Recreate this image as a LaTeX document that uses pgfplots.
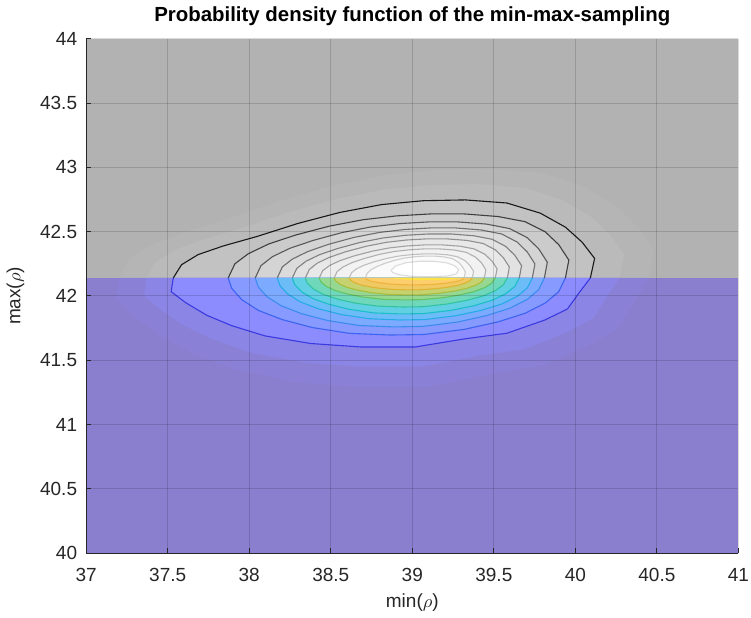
\documentclass[border=0pt]{standalone}
\usepackage{fontspec}
\setmainfont{Liberation Sans}
\usepackage{pgfplots}
\usepackage{pgfplotstable}
\pgfplotsset{compat=1.18}

% backgrounds
\definecolor{bgU}{gray}{0.70}
\definecolor{bgL}{RGB}{138,127,207}
\definecolor{axgray}{RGB}{38,38,38}
% upper (gray) fills
\definecolor{uA}{gray}{0.71}
\definecolor{uB}{gray}{0.73}
\definecolor{u1}{gray}{0.76}
\definecolor{u2}{gray}{0.795}
\definecolor{u3}{gray}{0.83}
\definecolor{u4}{gray}{0.86}
\definecolor{u5}{gray}{0.885}
\definecolor{u6}{gray}{0.91}
\definecolor{u7}{gray}{0.93}
\definecolor{u8}{gray}{0.95}
\definecolor{u9}{gray}{0.965}
\definecolor{u10}{gray}{0.98}
\definecolor{u11}{gray}{1.0}
% lower (coloured) fills
\definecolor{lA}{RGB}{138,129,214}
\definecolor{lB}{RGB}{139,133,230}
\definecolor{l1}{RGB}{140,140,255}
\definecolor{l2}{RGB}{134,154,255}
\definecolor{l3}{RGB}{124,170,255}
\definecolor{l4}{RGB}{108,188,248}
\definecolor{l5}{RGB}{96,208,226}
\definecolor{l6}{RGB}{112,216,186}
\definecolor{l7}{RGB}{150,216,146}
\definecolor{l8}{RGB}{198,210,112}
\definecolor{l9}{RGB}{240,200,100}
\definecolor{l10}{RGB}{252,206,110}
\definecolor{l11}{RGB}{255,226,70}
% contour line colours
\definecolor{ku1}{gray}{0.10}
\definecolor{ku2}{gray}{0.25}
\definecolor{ku3}{gray}{0.35}
\definecolor{ku4}{gray}{0.43}
\definecolor{ku5}{gray}{0.50}
\definecolor{ku6}{gray}{0.57}
\definecolor{ku7}{gray}{0.63}
\definecolor{ku8}{gray}{0.69}
\definecolor{ku9}{gray}{0.75}
\definecolor{ku10}{gray}{0.80}
\definecolor{ku11}{gray}{0.86}
\definecolor{kl1}{RGB}{58,58,224}
\definecolor{kl2}{RGB}{60,100,240}
\definecolor{kl3}{RGB}{60,140,240}
\definecolor{kl4}{RGB}{40,170,230}
\definecolor{kl5}{RGB}{30,190,200}
\definecolor{kl6}{RGB}{50,196,160}
\definecolor{kl7}{RGB}{100,196,100}
\definecolor{kl8}{RGB}{170,190,60}
\definecolor{kl9}{RGB}{220,180,50}
\definecolor{kl10}{RGB}{240,180,60}

% contour tables: upper arc (xu,yu) and lower arc (xl,yl), both from left to right
\pgfplotstableread{
xu yu xl yl
37.200 42.140 37.200 42.140
37.265 42.285 37.184 41.970
37.395 42.395 37.298 41.834
37.590 42.489 37.460 41.681
37.850 42.591 37.655 41.553
38.175 42.735 37.915 41.426
38.500 42.854 38.273 41.332
38.825 42.939 38.663 41.290
39.150 42.982 39.085 41.290
39.475 42.990 39.475 41.392
39.800 42.956 39.800 41.460
40.060 42.846 40.093 41.621
40.255 42.693 40.271 41.757
40.385 42.531 40.369 41.970
40.483 42.353 40.450 42.140
40.450 42.140 40.450 42.140
}\cA
\pgfplotstableread{
xu yu xl yl
37.370 42.140 37.370 42.140
37.428 42.264 37.355 42.002
37.544 42.359 37.457 41.892
37.718 42.439 37.602 41.767
37.950 42.527 37.776 41.664
38.240 42.651 38.008 41.560
38.530 42.753 38.327 41.484
38.820 42.826 38.675 41.450
39.110 42.863 39.052 41.450
39.400 42.870 39.400 41.533
39.690 42.841 39.690 41.588
39.922 42.746 39.951 41.719
40.096 42.615 40.111 41.829
40.212 42.476 40.198 42.002
40.299 42.323 40.270 42.140
40.270 42.140 40.270 42.140
}\cB
\pgfplotstableread{
xu yu xl yl
37.534 42.140 37.534 42.140
37.585 42.243 37.521 42.033
37.687 42.322 37.611 41.947
37.841 42.389 37.739 41.850
38.046 42.462 37.892 41.769
38.301 42.565 38.097 41.689
38.557 42.650 38.378 41.630
38.813 42.711 38.685 41.603
39.069 42.741 39.018 41.603
39.325 42.747 39.325 41.667
39.580 42.723 39.580 41.710
39.785 42.644 39.811 41.812
39.939 42.535 39.951 41.898
40.041 42.419 40.028 42.033
40.118 42.292 40.092 42.140
40.092 42.140 40.092 42.140
}\cI
\pgfplotstableread{
xu yu xl yl
37.871 42.140 37.871 42.140
37.912 42.250 37.892 42.060
37.995 42.329 37.954 41.971
38.119 42.404 38.057 41.887
38.285 42.474 38.202 41.816
38.491 42.543 38.388 41.754
38.698 42.593 38.615 41.709
38.905 42.623 38.864 41.696
39.112 42.638 39.070 41.700
39.319 42.638 39.319 41.740
39.525 42.618 39.525 41.798
39.691 42.578 39.691 41.865
39.815 42.499 39.815 41.945
39.898 42.399 39.898 42.033
39.960 42.279 39.939 42.140
39.939 42.140 39.939 42.140
}\cII
\pgfplotstableread{
xu yu xl yl
38.037 42.140 38.037 42.140
38.072 42.236 38.055 42.071
38.143 42.306 38.108 41.995
38.250 42.371 38.197 41.923
38.392 42.432 38.321 41.862
38.569 42.493 38.480 41.809
38.746 42.537 38.675 41.770
38.924 42.563 38.888 41.759
39.101 42.576 39.065 41.763
39.278 42.576 39.278 41.797
39.455 42.559 39.455 41.847
39.597 42.524 39.597 41.904
39.704 42.454 39.704 41.972
39.775 42.367 39.775 42.049
39.828 42.262 39.810 42.140
39.810 42.140 39.810 42.140
}\cIII
\pgfplotstableread{
xu yu xl yl
38.172 42.140 38.172 42.140
38.203 42.226 38.188 42.081
38.266 42.288 38.235 42.016
38.360 42.346 38.313 41.954
38.485 42.401 38.422 41.901
38.641 42.455 38.563 41.856
38.798 42.494 38.735 41.823
38.954 42.517 38.923 41.813
39.110 42.529 39.079 41.816
39.267 42.529 39.267 41.846
39.423 42.513 39.423 41.888
39.548 42.482 39.548 41.937
39.642 42.420 39.642 41.996
39.705 42.342 39.705 42.062
39.752 42.249 39.736 42.140
39.736 42.140 39.736 42.140
}\cIV
\pgfplotstableread{
xu yu xl yl
38.264 42.140 38.264 42.140
38.292 42.215 38.278 42.090
38.348 42.270 38.320 42.034
38.431 42.321 38.389 41.980
38.542 42.369 38.487 41.936
38.682 42.417 38.612 41.896
38.821 42.451 38.765 41.868
38.960 42.472 38.932 41.860
39.099 42.482 39.071 41.863
39.238 42.482 39.238 41.888
39.378 42.468 39.378 41.924
39.489 42.441 39.489 41.966
39.572 42.386 39.572 42.017
39.628 42.318 39.628 42.073
39.670 42.236 39.656 42.140
39.656 42.140 39.656 42.140
}\cV
\pgfplotstableread{
xu yu xl yl
38.344 42.140 38.344 42.140
38.369 42.207 38.356 42.099
38.418 42.256 38.394 42.054
38.493 42.301 38.456 42.011
38.592 42.344 38.542 41.975
38.716 42.386 38.654 41.943
38.840 42.417 38.790 41.921
38.964 42.435 38.939 41.914
39.087 42.444 39.063 41.916
39.211 42.444 39.211 41.937
39.335 42.432 39.335 41.966
39.434 42.408 39.434 42.000
39.509 42.359 39.509 42.041
39.558 42.298 39.558 42.086
39.595 42.225 39.583 42.140
39.583 42.140 39.583 42.140
}\cVI
\pgfplotstableread{
xu yu xl yl
38.429 42.140 38.429 42.140
38.451 42.197 38.440 42.109
38.494 42.238 38.472 42.075
38.559 42.276 38.526 42.043
38.645 42.312 38.602 42.015
38.753 42.348 38.699 41.991
38.861 42.374 38.818 41.974
38.969 42.389 38.947 41.969
39.077 42.397 39.055 41.971
39.185 42.397 39.185 41.986
39.293 42.387 39.293 42.008
39.379 42.366 39.379 42.034
39.444 42.325 39.444 42.065
39.487 42.274 39.487 42.099
39.520 42.212 39.509 42.140
39.509 42.140 39.509 42.140
}\cVII
\pgfplotstableread{
xu yu xl yl
38.521 42.140 38.521 42.140
38.539 42.190 38.530 42.116
38.576 42.226 38.558 42.090
38.632 42.260 38.604 42.065
38.705 42.291 38.668 42.044
38.797 42.323 38.751 42.025
38.889 42.346 38.853 42.012
38.982 42.359 38.963 42.008
39.074 42.366 39.055 42.009
39.166 42.366 39.166 42.021
39.258 42.357 39.258 42.038
39.331 42.339 39.331 42.058
39.387 42.303 39.387 42.082
39.424 42.258 39.424 42.108
39.451 42.203 39.442 42.140
39.442 42.140 39.442 42.140
}\cVIII
\pgfplotstableread{
xu yu xl yl
38.613 42.140 38.613 42.140
38.628 42.181 38.621 42.123
38.658 42.211 38.643 42.105
38.704 42.239 38.681 42.087
38.764 42.265 38.734 42.072
38.840 42.291 38.802 42.059
38.915 42.310 38.885 42.050
38.991 42.321 38.975 42.047
39.066 42.327 39.051 42.048
39.142 42.327 39.142 42.056
39.217 42.320 39.217 42.068
39.277 42.305 39.277 42.082
39.323 42.275 39.323 42.099
39.353 42.237 39.353 42.118
39.376 42.192 39.368 42.140
39.368 42.140 39.368 42.140
}\cIX
\pgfplotstableread{
xu yu xl yl
38.712 42.140 38.712 42.140
38.724 42.177 38.718 42.130
38.748 42.205 38.736 42.119
38.785 42.230 38.767 42.109
38.833 42.254 38.809 42.101
38.894 42.278 38.864 42.093
38.955 42.295 38.931 42.088
39.016 42.305 39.003 42.086
39.076 42.310 39.064 42.087
39.137 42.310 39.137 42.091
39.198 42.303 39.198 42.098
39.246 42.290 39.246 42.107
39.283 42.262 39.283 42.116
39.307 42.228 39.307 42.127
39.325 42.188 39.319 42.140
39.319 42.140 39.319 42.140
}\cX
% innermost closed loop (upper part only)
\pgfplotstableread{
x y
38.870 42.200
38.900 42.235
38.960 42.258
39.040 42.270
39.130 42.270
39.210 42.258
39.260 42.235
39.285 42.205
39.270 42.172
39.220 42.156
39.120 42.150
39.000 42.152
38.920 42.165
38.880 42.182
38.870 42.200
}\cXI
% brightest strip just below the cut
\pgfplotstableread{
x y
38.860 42.140
38.950 42.128
39.050 42.122
39.200 42.124
39.300 42.140
}\peak

\begin{document}
\begin{tikzpicture}
\begin{axis}[
    width=326pt, height=257pt, scale only axis,
    xmin=37, xmax=41, ymin=40, ymax=44,
    xtick={37,37.5,...,41}, ytick={40,40.5,...,44},
    axis x line*=bottom, axis y line*=left,
    axis line style={-, color=axgray, line width=0.5pt},
    tick style={color=axgray, line width=0.5pt},
    major tick length=2.5pt,
    grid=major,
    major grid style={black, opacity=0.15, line width=0.5pt},
    axis on top,
    /pgf/number format/assume math mode=true,
    tick label style={font=\fontsize{9.5}{11}\selectfont, color=axgray},
    xticklabel style={yshift=-4pt, inner xsep=1pt},
    yticklabel style={xshift=-1pt},
    title={Probability density function of the min-max-sampling},
    title style={font=\bfseries\fontsize{10.2}{12}\selectfont, yshift=-3pt},
    xlabel={min($\rho$)}, ylabel={max($\rho$)},
    label style={font=\fontsize{9.5}{11}\selectfont, color=axgray},
    xlabel style={yshift=1pt},
    ylabel style={yshift=1pt},
]
% backgrounds
\addplot[draw=none, fill=bgU] coordinates {(37,42.14) (41,42.14) (41,44) (37,44)};
\addplot[draw=none, fill=bgL] coordinates {(37,40) (41,40) (41,42.14) (37,42.14)};

% upper half fills
\addplot[draw=none, fill=uA] table[x=xu, y=yu] {\cA};
\addplot[draw=none, fill=uB] table[x=xu, y=yu] {\cB};
\addplot[draw=none, fill=u1] table[x=xu, y=yu] {\cI};
\addplot[draw=none, fill=u2] table[x=xu, y=yu] {\cII};
\addplot[draw=none, fill=u3] table[x=xu, y=yu] {\cIII};
\addplot[draw=none, fill=u4] table[x=xu, y=yu] {\cIV};
\addplot[draw=none, fill=u5] table[x=xu, y=yu] {\cV};
\addplot[draw=none, fill=u6] table[x=xu, y=yu] {\cVI};
\addplot[draw=none, fill=u7] table[x=xu, y=yu] {\cVII};
\addplot[draw=none, fill=u8] table[x=xu, y=yu] {\cVIII};
\addplot[draw=none, fill=u9] table[x=xu, y=yu] {\cIX};
\addplot[draw=none, fill=u10] table[x=xu, y=yu] {\cX};
\addplot[draw=none, fill=u11] table {\cXI};

% lower half fills
\addplot[draw=none, fill=lA] table[x=xl, y=yl] {\cA};
\addplot[draw=none, fill=lB] table[x=xl, y=yl] {\cB};
\addplot[draw=none, fill=l1] table[x=xl, y=yl] {\cI};
\addplot[draw=none, fill=l2] table[x=xl, y=yl] {\cII};
\addplot[draw=none, fill=l3] table[x=xl, y=yl] {\cIII};
\addplot[draw=none, fill=l4] table[x=xl, y=yl] {\cIV};
\addplot[draw=none, fill=l5] table[x=xl, y=yl] {\cV};
\addplot[draw=none, fill=l6] table[x=xl, y=yl] {\cVI};
\addplot[draw=none, fill=l7] table[x=xl, y=yl] {\cVII};
\addplot[draw=none, fill=l8] table[x=xl, y=yl] {\cVIII};
\addplot[draw=none, fill=l9] table[x=xl, y=yl] {\cIX};
\addplot[draw=none, fill=l10] table[x=xl, y=yl] {\cX};
\addplot[draw=none, fill=l11] table {\peak};

% contour lines, upper half
\addplot[ku1, line width=0.55pt] table[x=xu, y=yu] {\cI};
\addplot[ku2, line width=0.55pt] table[x=xu, y=yu] {\cII};
\addplot[ku3, line width=0.55pt] table[x=xu, y=yu] {\cIII};
\addplot[ku4, line width=0.55pt] table[x=xu, y=yu] {\cIV};
\addplot[ku5, line width=0.55pt] table[x=xu, y=yu] {\cV};
\addplot[ku6, line width=0.55pt] table[x=xu, y=yu] {\cVI};
\addplot[ku7, line width=0.55pt] table[x=xu, y=yu] {\cVII};
\addplot[ku8, line width=0.55pt] table[x=xu, y=yu] {\cVIII};
\addplot[ku9, line width=0.55pt] table[x=xu, y=yu] {\cIX};
\addplot[ku10, line width=0.55pt] table[x=xu, y=yu] {\cX};
\addplot[ku11, line width=0.55pt] table {\cXI};

% contour lines, lower half
\addplot[kl1, line width=0.55pt] table[x=xl, y=yl] {\cI};
\addplot[kl2, line width=0.55pt] table[x=xl, y=yl] {\cII};
\addplot[kl3, line width=0.55pt] table[x=xl, y=yl] {\cIII};
\addplot[kl4, line width=0.55pt] table[x=xl, y=yl] {\cIV};
\addplot[kl5, line width=0.55pt] table[x=xl, y=yl] {\cV};
\addplot[kl6, line width=0.55pt] table[x=xl, y=yl] {\cVI};
\addplot[kl7, line width=0.55pt] table[x=xl, y=yl] {\cVII};
\addplot[kl8, line width=0.55pt] table[x=xl, y=yl] {\cVIII};
\addplot[kl9, line width=0.55pt] table[x=xl, y=yl] {\cIX};
\addplot[kl10, line width=0.55pt] table[x=xl, y=yl] {\cX};
\end{axis}
\end{tikzpicture}
\end{document}
